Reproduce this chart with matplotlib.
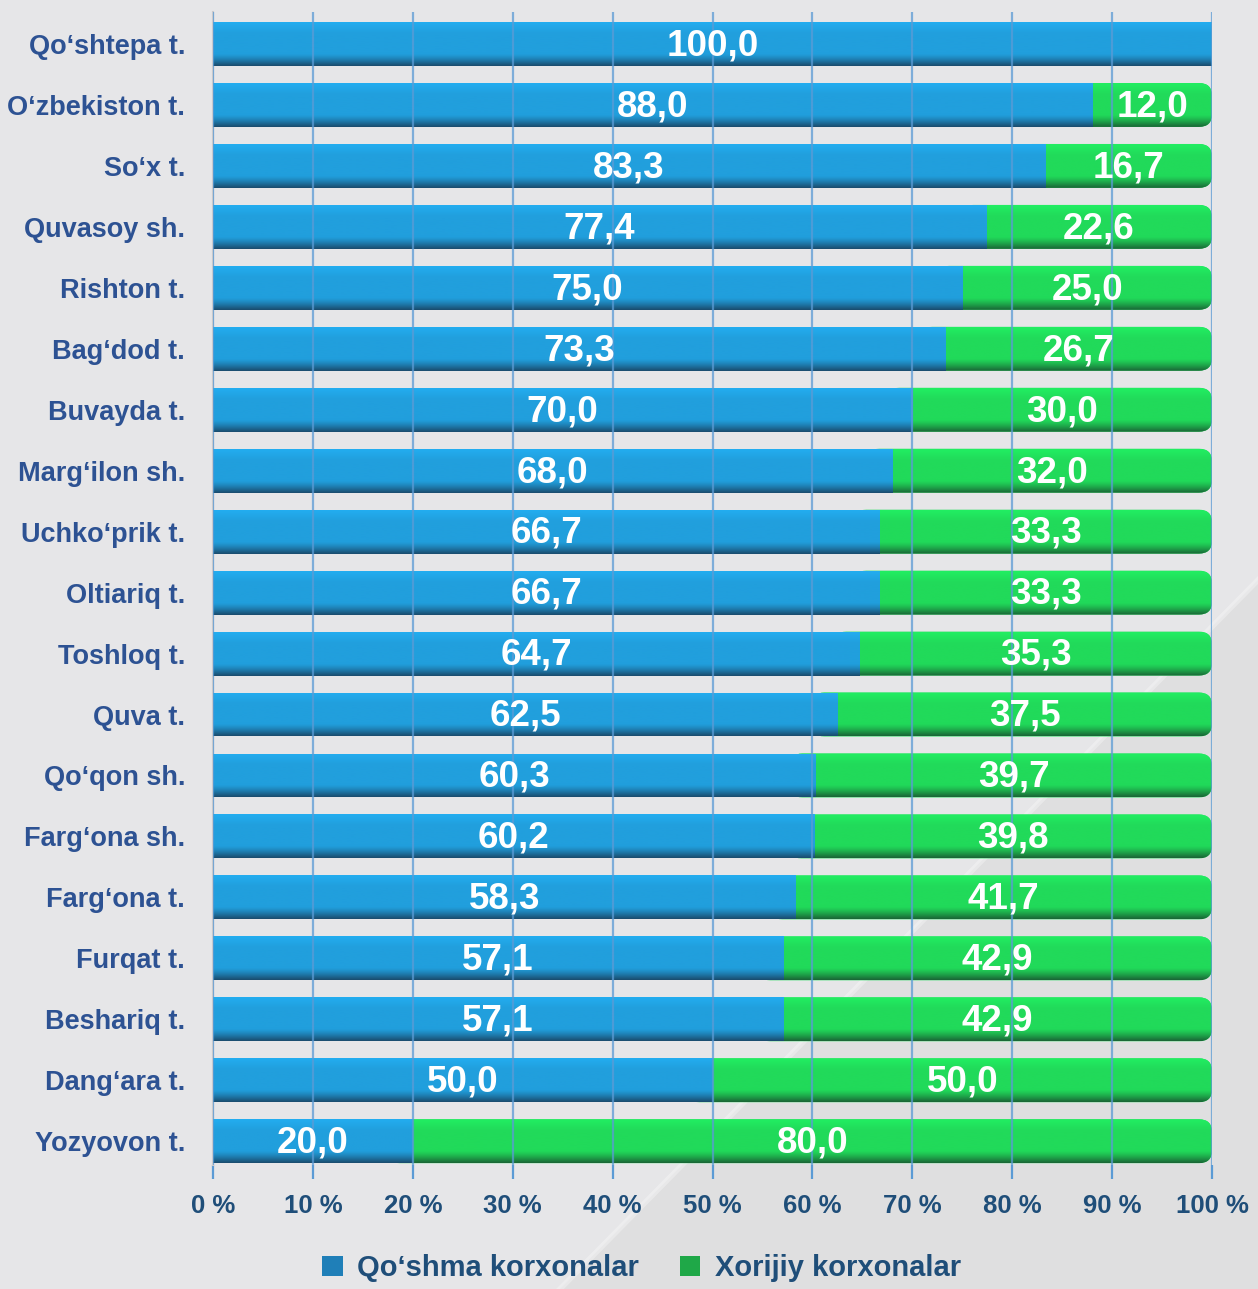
import matplotlib

matplotlib.use("Agg")
import matplotlib.pyplot as plt
import numpy as np
from matplotlib.colors import to_rgba
from matplotlib.lines import Line2D
from matplotlib.patches import FancyBboxPatch, Polygon, Rectangle

plt.rcParams["font.family"] = ["Liberation Sans", "DejaVu Sans"]
plt.rcParams["font.weight"] = "bold"

# Share of enterprises by district, percent
districts = [
    "Qo‘shtepa t.", "O‘zbekiston t.", "So‘x t.", "Quvasoy sh.", "Rishton t.",
    "Bag‘dod t.", "Buvayda t.", "Marg‘ilon sh.", "Uchko‘prik t.", "Oltiariq t.",
    "Toshloq t.", "Quva t.", "Qo‘qon sh.", "Farg‘ona sh.", "Farg‘ona t.",
    "Furqat t.", "Beshariq t.", "Dang‘ara t.", "Yozyovon t.",
]
joint = [100.0, 88.0, 83.3, 77.4, 75.0, 73.3, 70.0, 68.0, 66.7, 66.7,
         64.7, 62.5, 60.3, 60.2, 58.3, 57.1, 57.1, 50.0, 20.0]
foreign = [0.0, 12.0, 16.7, 22.6, 25.0, 26.7, 30.0, 32.0, 33.3, 33.3,
           35.3, 37.5, 39.7, 39.8, 41.7, 42.9, 42.9, 50.0, 80.0]
series_names = ["Qo‘shma korxonalar", "Xorijiy korxonalar"]
xticks = list(range(0, 101, 10))

BG = "#E6E6E8"
BLUE = "#22A2E0"
GREEN = "#22DE5C"
GRID = "#5B9BD5"
LABEL = "#2D5293"
TICK = "#1F4E79"


def gradient(top, mid, bottom, n=64):
    # vertical shading: bright top, flat middle, dark lower rim
    t = np.linspace(0, 1, n)
    c_top, c_mid, c_bot = (np.array(to_rgba(c)) for c in (top, mid, bottom))
    rows = []
    for v in t:
        if v < 0.25:
            rows.append(c_top + (c_mid - c_top) * v / 0.25)
        elif v < 0.72:
            rows.append(c_mid)
        else:
            rows.append(c_mid + (c_bot - c_mid) * ((v - 0.72) / 0.28) ** 1.3)
    return np.array(rows)[:, None, :]


blue_grad = gradient("#23ADF0", "#219FDD", "#1A4C6E")
green_grad = gradient("#22EE62", "#21DA5A", "#1A6636")

W, H = 1258, 1289
fig = plt.figure(figsize=(W / 100, H / 100), dpi=100, facecolor=BG)

# slightly darker lower-right corner with a pale streak along its edge
p0, p1 = (560 / W, 0.0), (1.0, 1 - 580 / H)
fig.add_artist(Polygon([p0, p1, (1.0, 0.0)], closed=True, transform=fig.transFigure,
                       facecolor="#DFDFE0", edgecolor="none", zorder=-2))
fig.add_artist(Line2D([p0[0], p1[0]], [p0[1], p1[1]], transform=fig.transFigure,
                      color="white", lw=4, alpha=0.3, zorder=-1))

ax = fig.add_axes([213 / W, 1 - 1165 / H, 999 / W, 1153 / H])
ax.set_facecolor("none")

y = np.arange(len(districts))
h = 0.72
r_x, r_y = 1.3, 0.21  # corner radius in data units

for i in y:
    j, f = joint[i], foreign[i]
    if f > 0:
        # green part, rounded at the right end; its left end tucks under the blue bar
        gp = FancyBboxPatch((j - 2 * r_x, i - h / 2), f + 2 * r_x, h,
                            boxstyle=f"round,pad=0,rounding_size={r_x}",
                            mutation_aspect=r_y / r_x,
                            facecolor=GREEN, edgecolor="none", zorder=2)
        ax.add_patch(gp)
        im = ax.imshow(green_grad, extent=(j - 2 * r_x, j + f, i + h / 2, i - h / 2),
                       aspect="auto", interpolation="bicubic", zorder=2.1)
        im.set_clip_path(gp)
    bp = ax.barh(i, j, height=h, left=0, color=BLUE, edgecolor="none", zorder=3)[0]
    im = ax.imshow(blue_grad, extent=(0, j, i + h / 2, i - h / 2),
                   aspect="auto", interpolation="bicubic", zorder=3.1)
    im.set_clip_path(bp)

    ax.text(j / 2, i + 0.03, f"{j:.1f}".replace(".", ","), ha="center", va="center",
            color="white", fontsize=26.5, fontweight="bold", zorder=6)
    if f > 0:
        ax.text(j + f / 2, i + 0.03, f"{f:.1f}".replace(".", ","), ha="center", va="center",
                color="white", fontsize=26.5, fontweight="bold", zorder=6)

ax.set_xlim(0, 100)
ax.set_ylim(18.39, -0.525)

# vertical grid drawn over the bars, slightly see-through
for x in xticks:
    ax.axvline(x, color=GRID, lw=1.6, alpha=0.75, zorder=5)

ax.set_yticks(y)
ax.set_yticklabels(districts, fontsize=19.5, color=LABEL, fontweight="bold")
ax.set_xticks(xticks)
ax.set_xticklabels([f"{x} %" for x in xticks], fontsize=18.5, color=TICK, fontweight="bold")
ax.tick_params(axis="y", length=0, pad=20)
ax.tick_params(axis="x", length=10, width=1.6, color=GRID, pad=11)

for side in ["top", "right", "bottom"]:
    ax.spines[side].set_visible(False)
ax.spines["left"].set_color("#C9C9CC")
ax.spines["left"].set_linewidth(1.5)

handles = [Rectangle((0, 0), 1, 1, facecolor="#1F7FB8"),
           Rectangle((0, 0), 1, 1, facecolor="#1FA848")]
fig.legend(handles, series_names, loc="center", bbox_to_anchor=(0.51, 0.016),
           ncol=2, frameon=False, handlelength=0.7, handleheight=0.7,
           handletextpad=0.5, columnspacing=1.4, labelcolor=TICK,
           prop={"weight": "bold", "size": 21})

fig.savefig("out.png", dpi=100, facecolor=BG)
